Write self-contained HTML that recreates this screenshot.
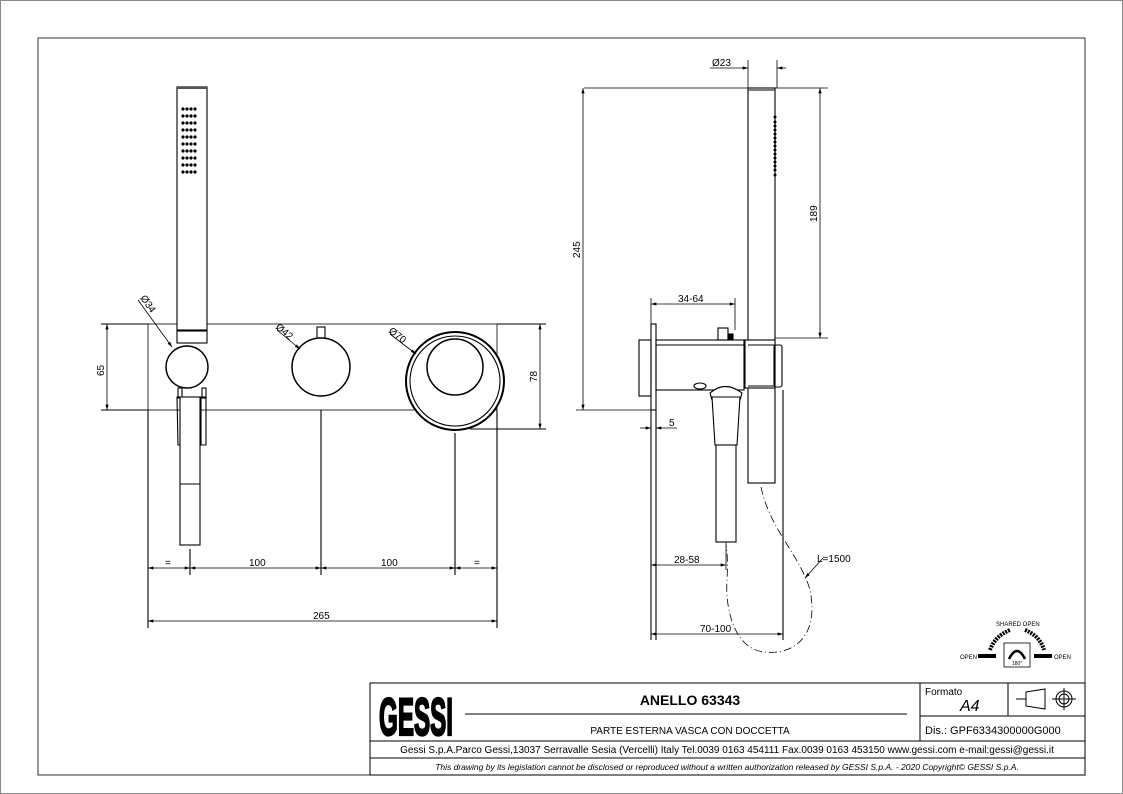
<!DOCTYPE html>
<html><head><meta charset="utf-8"><style>
html,body{margin:0;padding:0;background:#fff;}
svg{display:block;font-family:"Liberation Sans",sans-serif;}
</style></head><body>
<svg width="1123" height="794" viewBox="0 0 1123 794" xmlns="http://www.w3.org/2000/svg">
<defs>
<marker id="a" viewBox="0 0 10 6" refX="10" refY="3" markerWidth="9" markerHeight="4" orient="auto-start-reverse"><path d="M0,0L10,3L0,6z" fill="#000"/></marker>
</defs>
<rect x="0.5" y="0.5" width="1122" height="793" fill="none" stroke="#888" stroke-width="1"/>
<rect x="38" y="38" width="1047" height="737" fill="none" stroke="#333" stroke-width="1"/>
<g fill="none" stroke="#000" stroke-width="1.1">
<rect x="148" y="324" width="349" height="86" stroke-width="0.8"/>
<rect x="177" y="87" width="30" height="243" fill="#fff"/>
<line x1="177" y1="88" x2="207" y2="88" stroke-width="2" stroke="#555"/>
<rect x="177" y="331" width="30" height="12" fill="#fff"/>
<circle cx="187" cy="367" r="21" stroke-width="1.5" fill="#fff"/>
<rect x="178" y="388" width="4" height="10"/><rect x="202" y="388" width="4" height="10"/>
<path d="M177,397 L183,397 L183,445 L178,445 Z"/><path d="M201,397 L206,397 L206,445 L201,445 Z"/>
<rect x="180" y="397" width="20" height="148" fill="#fff"/>
<line x1="180" y1="484" x2="200" y2="484"/>
<line x1="190" y1="549" x2="190" y2="575"/>
<rect x="317" y="327" width="8" height="14"/>
<circle cx="321" cy="367" r="29" stroke-width="1.5" fill="#fff"/>
<circle cx="455" cy="381" r="49" stroke-width="2" fill="#fff"/>
<circle cx="455" cy="381" r="45"/>
<circle cx="455" cy="367" r="28" stroke-width="1.5"/>
<line x1="148" y1="410" x2="148" y2="628"/><line x1="497" y1="410" x2="497" y2="628"/>
<line x1="321" y1="410" x2="321" y2="575"/><line x1="455" y1="433" x2="455" y2="575"/>
<line x1="101" y1="324" x2="148" y2="324"/><line x1="101" y1="410" x2="148" y2="410"/>
<line x1="497" y1="324" x2="546" y2="324"/><line x1="470" y1="429" x2="546" y2="429"/>
</g>
<g stroke="#000" stroke-width="0.8" fill="none">
<line x1="148" y1="568" x2="190" y2="568" marker-start="url(#a)" marker-end="url(#a)"/>
<line x1="190" y1="568" x2="321" y2="568" marker-start="url(#a)" marker-end="url(#a)"/>
<line x1="321" y1="568" x2="455" y2="568" marker-start="url(#a)" marker-end="url(#a)"/>
<line x1="455" y1="568" x2="497" y2="568" marker-start="url(#a)" marker-end="url(#a)"/>
<line x1="148" y1="621" x2="497" y2="621" marker-start="url(#a)" marker-end="url(#a)"/>
<line x1="107" y1="324" x2="107" y2="410" marker-start="url(#a)" marker-end="url(#a)"/>
<line x1="540" y1="324" x2="540" y2="429" marker-start="url(#a)" marker-end="url(#a)"/>
<line x1="138" y1="300" x2="172" y2="347" marker-end="url(#a)"/>
<line x1="277" y1="330" x2="300" y2="349" marker-end="url(#a)"/>
<line x1="390" y1="334" x2="416" y2="354" marker-end="url(#a)"/>
</g>
<g fill="#000">
<g id="dots">
<circle cx="183" cy="109" r="1.6"/><circle cx="187" cy="109" r="1.6"/><circle cx="191" cy="109" r="1.6"/><circle cx="195" cy="109" r="1.6"/>
</g>
<use href="#dots" y="7"/><use href="#dots" y="14"/><use href="#dots" y="21"/><use href="#dots" y="28"/><use href="#dots" y="35"/><use href="#dots" y="42"/><use href="#dots" y="49"/><use href="#dots" y="56"/><use href="#dots" y="63"/>
</g>
<g font-size="10" fill="#000">
<text x="165" y="566">=</text><text x="249" y="566">100</text><text x="381" y="566">100</text><text x="474" y="566">=</text>
<text x="313" y="619">265</text>
<text transform="translate(104,376) rotate(-90)" >65</text>
<text transform="translate(537,382) rotate(-90)">78</text>
<text transform="translate(140,298) rotate(55)">Ø34</text>
<text transform="translate(275,328) rotate(40)">Ø42</text>
<text transform="translate(388,332) rotate(38)">Ø70</text>
</g>
<g fill="none" stroke="#000" stroke-width="1.1">
<rect x="639" y="340" width="12" height="56"/>
<rect x="651" y="324" width="5" height="86"/>
<line x1="656" y1="410" x2="656" y2="640"/><line x1="651" y1="410" x2="651" y2="640"/>
<rect x="656" y="340" width="88" height="50"/>
<line x1="656" y1="345" x2="744" y2="345"/>
<rect x="718" y="328" width="10" height="12"/><rect x="728" y="334" width="5" height="6" fill="#000"/>
<ellipse cx="700" cy="386" rx="6" ry="3"/>
<path d="M710,393 Q725,380 742,393 L740,400 L712,400 Z" fill="#fff"/>
<path d="M712,397 L740,397 L737,445 L715,445 Z" fill="#fff"/>
<rect x="716" y="445" width="20" height="97"/>
<rect x="748" y="88" width="27" height="395" fill="#fff"/>
<line x1="748" y1="90" x2="775" y2="90" stroke-width="1.5" stroke="#555"/>
<rect x="745" y="340" width="30" height="48" fill="#fff"/>
<rect x="774" y="345" width="8" height="42" rx="2"/>
<line x1="748" y1="345" x2="775" y2="345"/><line x1="748" y1="386" x2="775" y2="386"/>
<line x1="783" y1="390" x2="783" y2="640"/>
<line x1="584" y1="88" x2="828" y2="88" stroke-width="0.8"/>
<line x1="576" y1="410" x2="651" y2="410" stroke-width="0.8"/>
<line x1="775" y1="338" x2="828" y2="338" stroke-width="0.8"/>
<line x1="748" y1="60" x2="748" y2="88" stroke-width="0.8"/><line x1="777" y1="60" x2="777" y2="88" stroke-width="0.8"/>
<line x1="651" y1="298" x2="651" y2="324" stroke-width="0.8"/><line x1="735" y1="298" x2="735" y2="330" stroke-width="0.8"/>
<line x1="726" y1="542" x2="726" y2="570" stroke-width="0.8"/>
</g>
<g fill="#000">
<circle cx="775" cy="117" r="1.5"/><circle cx="775" cy="122" r="1.5"/><circle cx="775" cy="126" r="1.5"/><circle cx="775" cy="130" r="1.5"/><circle cx="775" cy="134" r="1.5"/><circle cx="775" cy="138" r="1.5"/><circle cx="775" cy="142" r="1.5"/><circle cx="775" cy="146" r="1.5"/><circle cx="775" cy="150" r="1.5"/><circle cx="775" cy="154" r="1.5"/><circle cx="775" cy="158" r="1.5"/><circle cx="775" cy="162" r="1.5"/><circle cx="775" cy="166" r="1.5"/><circle cx="775" cy="170" r="1.5"/><circle cx="775" cy="175" r="1.5"/>
</g>
<g stroke="#000" stroke-width="0.8" fill="none">
<line x1="583" y1="88" x2="583" y2="410" marker-start="url(#a)" marker-end="url(#a)"/>
<line x1="820" y1="88" x2="820" y2="338" marker-start="url(#a)" marker-end="url(#a)"/>
<line x1="710" y1="68" x2="748" y2="68" marker-end="url(#a)"/><line x1="777" y1="68" x2="786" y2="68" marker-start="url(#a)"/>
<line x1="651" y1="304" x2="735" y2="304" marker-start="url(#a)" marker-end="url(#a)"/>
<line x1="640" y1="428" x2="651" y2="428" marker-end="url(#a)"/><line x1="656" y1="428" x2="677" y2="428" marker-start="url(#a)"/>
<line x1="651" y1="565" x2="726" y2="565" marker-start="url(#a)" marker-end="url(#a)"/>
<line x1="651" y1="634" x2="783" y2="634" marker-start="url(#a)" marker-end="url(#a)"/>
<line x1="823" y1="558" x2="805" y2="578" marker-end="url(#a)"/>
<path d="M761,487 C770,530 800,555 810,590 C820,640 790,655 765,652 C735,650 725,610 727,580 C728,560 727,550 726,545" stroke-dasharray="8,3,1,3"/>
</g>
<g font-size="10" fill="#000">
<text x="712" y="66">Ø23</text>
<text x="678" y="302">34-64</text>
<text x="669" y="426">5</text>
<text x="674" y="563">28-58</text>
<text x="700" y="632">70-100</text>
<text x="817" y="562">L=1500</text>
<text transform="translate(580,258) rotate(-90)">245</text>
<text transform="translate(817,222) rotate(-90)">189</text>
</g>
<g font-size="6" fill="#000">
<text x="996" y="626">SHARED OPEN</text>
<text x="960" y="659">OPEN</text><text x="1054" y="659">OPEN</text>
<rect x="978" y="654" width="18" height="4"/><rect x="1034" y="654" width="18" height="4"/>
<path d="M990,650 Q995,636 1010,630" stroke="#000" stroke-width="4" fill="none" stroke-dasharray="2,1"/>
<path d="M1025,630 Q1040,636 1044,650" stroke="#000" stroke-width="4" fill="none" stroke-dasharray="2,1"/>
<rect x="1004" y="643" width="26" height="24" fill="#fff" stroke="#000" stroke-width="0.8"/>
<path d="M1009,659 Q1017,643 1025,659" stroke="#000" stroke-width="2.5" fill="none"/>
<text x="1012" y="665" font-size="5">180°</text>
</g>
<g stroke="#000" stroke-width="1" fill="none">
<rect x="370" y="683" width="715" height="92"/>
<line x1="370" y1="741" x2="1085" y2="741"/>
<line x1="370" y1="758" x2="1085" y2="758"/>
<line x1="920" y1="683" x2="920" y2="741"/>
<line x1="920" y1="716" x2="1085" y2="716"/>
<line x1="1008" y1="683" x2="1008" y2="716"/>
<line x1="465" y1="714" x2="907" y2="714"/>
<path d="M1016,699 L1026,699 M1026,692 L1045,689 L1045,709 L1026,706 Z M1019,699 L1022,699"/>
<circle cx="1064" cy="699" r="8"/><circle cx="1064" cy="699" r="5"/>
<line x1="1052" y1="699" x2="1076" y2="699"/><line x1="1064" y1="688" x2="1064" y2="710"/>
</g>
<g fill="#000">
<text transform="translate(379,735) scale(1,1.55)" font-size="34" font-weight="bold" textLength="74" lengthAdjust="spacingAndGlyphs" stroke="#000" stroke-width="1.5">GESSI</text>
<text x="690" y="705" font-size="14" font-weight="bold" text-anchor="middle">ANELLO 63343</text>
<text x="690" y="734" font-size="10" text-anchor="middle">PARTE ESTERNA VASCA CON DOCCETTA</text>
<text x="925" y="695" font-size="10">Formato</text>
<text x="960" y="711" font-size="16" font-style="italic">A4</text>
<text x="925" y="734" font-size="11">Dis.: GPF6334300000G000</text>
<text x="727" y="753" font-size="10" text-anchor="middle">Gessi S.p.A.Parco Gessi,13037 Serravalle Sesia (Vercelli) Italy Tel.0039 0163 454111 Fax.0039 0163 453150 www.gessi.com e-mail:gessi@gessi.it</text>
<text x="727" y="770" font-size="8.5" font-style="italic" text-anchor="middle">This drawing by its legislation cannot be disclosed or reproduced without a written authorization released by GESSI S.p.A. - 2020 Copyright© GESSI S.p.A.</text>
</g>
</svg>
</body></html>
